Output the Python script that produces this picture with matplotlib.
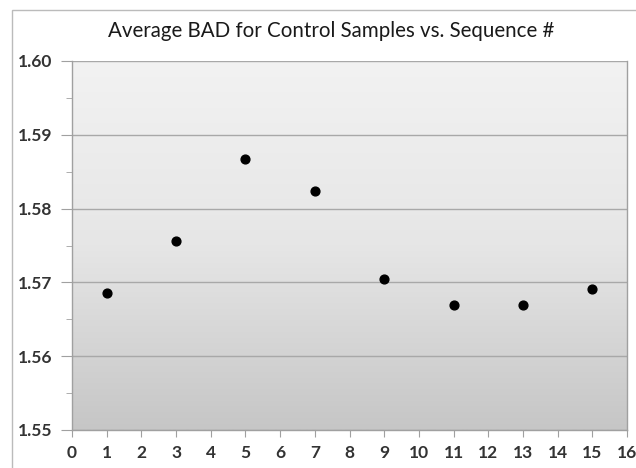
import matplotlib
matplotlib.use("Agg")
import matplotlib.pyplot as plt
import numpy as np
from matplotlib.patches import Rectangle
from matplotlib.colors import LinearSegmentedColormap

seq = [1, 3, 5, 7, 9, 11, 13, 15]
bad = [1.5686, 1.5756, 1.5867, 1.5824, 1.5704, 1.5670, 1.5670, 1.5691]
xticks = list(range(0, 17))
yticks = [1.55, 1.56, 1.57, 1.58, 1.59, 1.60]
title = "Average BAD for Control Samples vs. Sequence #"

plt.rcParams['font.family'] = ['Lato', 'DejaVu Sans']

fig = plt.figure(figsize=(6.36, 4.68), dpi=100)
fig.patch.set_facecolor('white')
ax = fig.add_axes([72/636, 1 - 430/468, (627-72)/636, (430-61)/468])

# gradient background (light at top, darker at bottom)
grad = np.linspace(0, 1, 256).reshape(-1, 1)
cmap = LinearSegmentedColormap.from_list('g', [(0, '#f2f2f2'), (0.5, '#e6e6e6'), (1, '#c6c6c6')])
ax.imshow(grad, cmap=cmap, aspect='auto', extent=[0, 1, 0, 1], origin='upper',
          transform=ax.transAxes, zorder=0)

ax.set_xlim(0, 16)
ax.set_ylim(1.55, 1.60)
ax.set_yticks(yticks)
ax.set_yticks(np.arange(1.555, 1.60, 0.01), minor=True)
ax.set_xticks(xticks)
ax.set_yticklabels([f"{v:.2f}" for v in yticks], fontsize=12.5, fontweight='bold', color='#333333')
ax.set_xticklabels([str(v) for v in xticks], fontsize=12.5, fontweight='bold', color='#333333')

ax.grid(axis='y', which='major', color='#a8a8a8', linewidth=1.0, zorder=1)
ax.set_axisbelow(True)

for s in ['left', 'bottom', 'right']:
    ax.spines[s].set_color('#a0a0a0')
    ax.spines[s].set_linewidth(1.0)
ax.spines['top'].set_visible(False)

ax.tick_params(axis='y', which='major', length=8, color='#a0a0a0', pad=6)
ax.tick_params(axis='y', which='minor', length=4, color='#a0a0a0')
ax.tick_params(axis='x', which='major', length=5, color='#a0a0a0', pad=6)

ax.scatter(seq, bad, s=40, color='black', zorder=3)

fig.text(331/636, 1 - 31/468, title, ha='center', va='center', fontsize=14.8, color='#1a1a1a')

# outer chart border
fig.patches.append(Rectangle((12/636, -0.01), 1.0, 1 - 10/468 + 0.01, transform=fig.transFigure,
                             fill=False, edgecolor='#bbbbbb', linewidth=1.0))

fig.savefig("out.png", dpi=100)
